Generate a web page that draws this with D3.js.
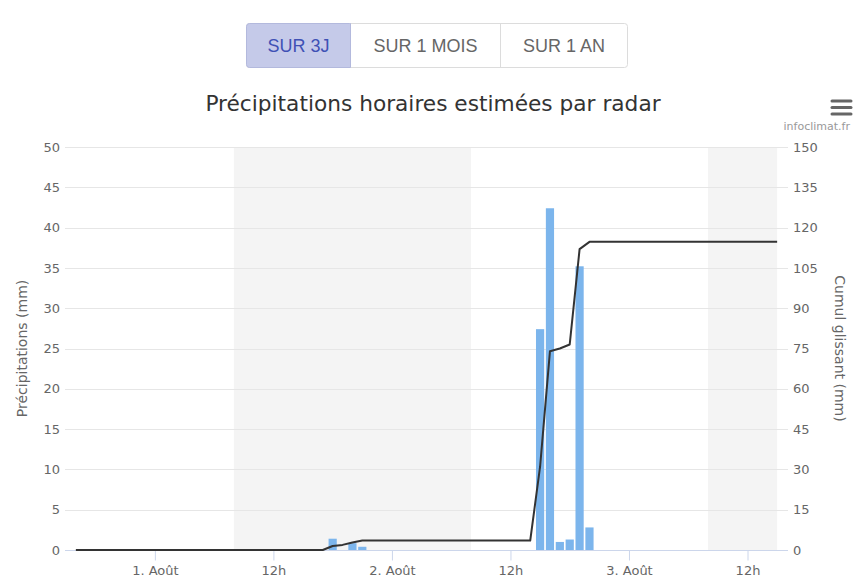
<!DOCTYPE html>
<html><head><meta charset="utf-8">
<script src="https://cdn.jsdelivr.net/npm/d3@7"></script>
<style>
html,body{margin:0;padding:0;background:#fff;}
svg{display:block;}
</style></head>
<body>
<svg id="c" width="860" height="588"></svg>
<script>
// ---- data ----
const startTime = "2024-07-31T16:00:00";   // first hourly value
const precipitation = [
  0,0,0,0,0,0,0,0,0,0, 0,0,0,0,0,0,0,0,0,0, 0,0,0,0,0,0,
  1.4,0,0.85,0.4,
  0,0,0,0,0,0,0,0,0,0, 0,0,0,0,0,0,0,
  27.4,42.4,1.0,1.3,35.2,2.8,
  0,0,0,0,0,0,0,0,0,0, 0,0,0,0,0,0,0,0,0
];
const cumul = [
  0,0,0,0,0,0,0,0,0,0, 0,0,0,0,0,0,0,0,0,0, 0,0,0,0,0,0,
  1.5,1.9,2.8,3.5,
  3.5,3.5,3.5,3.5,3.5,3.5,3.5,3.5,3.5,3.5, 3.5,3.5,3.5,3.5,3.5,3.5,3.5,
  31,74,75,76.5,112,114.7,
  114.7,114.7,114.7,114.7,114.7,114.7,114.7,114.7,114.7,114.7,
  114.7,114.7,114.7,114.7,114.7,114.7,114.7,114.7,114.7
];
const xTicks = ["2024-08-01T00:00:00","2024-08-01T12:00:00","2024-08-02T00:00:00","2024-08-02T12:00:00","2024-08-03T00:00:00","2024-08-03T12:00:00"];
const xTickLabels = ["1. Août","12h","2. Août","12h","3. Août","12h"];
const bandStarts = ["2024-08-01T08:00:00","2024-08-03T08:00:00"];
const bandEnds   = ["2024-08-02T08:00:00","2024-08-03T15:00:00"];
const leftTicks = [0,5,10,15,20,25,30,35,40,45,50];
const rightTicks = [0,15,30,45,60,75,90,105,120,135,150];
const buttons = ["SUR 3J","SUR 1 MOIS","SUR 1 AN"];
const titleText = "Précipitations horaires estimées par radar";
const leftTitle = "Précipitations (mm)";
const rightTitle = "Cumul glissant (mm)";
const credit = "infoclimat.fr";

// ---- layout ----
const svg = d3.select("#c");
const L = 65, R = 788, T = 147, B = 550;
const parse = d3.isoParse;
const t0 = parse(startTime);
const times = precipitation.map((_, i) => d3.timeHour.offset(t0, i));
const tEnd = times[times.length - 1];
const padMs = 1.1 * 3600e3;
const x = d3.scaleTime()
  .domain([new Date(+t0 - padMs), new Date(+tEnd + padMs)])
  .range([L, R]);
const yL = d3.scaleLinear().domain([0, 50]).range([B, T]);
const yR = d3.scaleLinear().domain([0, 150]).range([B, T]);
const font = "'DejaVu Sans', sans-serif";

// buttons
const btnX = [246, 351, 500, 628];
const bg = svg.append("g");
bg.append("rect").attr("x", 246.5).attr("y", 23.5).attr("width", 381).attr("height", 44)
  .attr("rx", 3).attr("fill", "#fff").attr("stroke", "#dcdcdc");
bg.append("path")
  .attr("d", "M349.5,23.5 H249.5 A3,3 0 0 0 246.5,26.5 V64.5 A3,3 0 0 0 249.5,67.5 H350.5 V23.5 Z")
  .attr("fill", "#c5cae9").attr("stroke", "#b3b9dd");
bg.append("line").attr("x1", 500.5).attr("x2", 500.5).attr("y1", 23.5).attr("y2", 67.5).attr("stroke", "#dcdcdc");
buttons.forEach((b, i) => {
  bg.append("text").attr("x", (btnX[i] + btnX[i + 1]) / 2).attr("y", 52)
    .attr("text-anchor", "middle").attr("font-family", "'Liberation Sans', Arial, sans-serif")
    .attr("font-size", 18).attr("fill", i === 0 ? "#3f51b5" : "#666").text(b);
});

// title
svg.append("text").attr("x", 433).attr("y", 111).attr("text-anchor", "middle")
  .attr("font-family", font).attr("font-size", 21.7).attr("fill", "#333").text(titleText);

// menu icon
[101, 107.5, 114].forEach(yy => {
  svg.append("line").attr("x1", 832).attr("x2", 851).attr("y1", yy).attr("y2", yy)
    .attr("stroke", "#666").attr("stroke-width", 3).attr("stroke-linecap", "round");
});
svg.append("text").attr("x", 850).attr("y", 130).attr("text-anchor", "end")
  .attr("font-family", font).attr("font-size", 11).attr("fill", "#999").text(credit);

// bands
svg.append("g").selectAll("rect").data(bandStarts).join("rect")
  .attr("x", (d) => x(parse(d)))
  .attr("width", (d, i) => x(parse(bandEnds[i])) - x(parse(d)))
  .attr("y", T).attr("height", B - T).attr("fill", "#f4f4f4");

// gridlines
svg.append("g").selectAll("line").data(leftTicks.slice(1)).join("line")
  .attr("x1", L).attr("x2", R)
  .attr("y1", d => Math.round(yL(d)) + 0.5).attr("y2", d => Math.round(yL(d)) + 0.5)
  .attr("stroke", "#e6e6e6");

// left axis labels
const gl = svg.append("g").attr("transform", `translate(${L},0)`)
  .call(d3.axisLeft(yL).tickValues(leftTicks).tickSize(0).tickPadding(5));
gl.select(".domain").remove();
gl.selectAll("text").attr("font-family", font).attr("font-size", 13).attr("fill", "#666");

const gr = svg.append("g").attr("transform", `translate(${R},0)`)
  .call(d3.axisRight(yR).tickValues(rightTicks).tickSize(0).tickPadding(5));
gr.select(".domain").remove();
gr.selectAll("text").attr("font-family", font).attr("font-size", 13).attr("fill", "#666");

// axis titles
svg.append("text").attr("transform", `translate(27,${(T + B) / 2}) rotate(-90)`)
  .attr("text-anchor", "middle").attr("font-family", font).attr("font-size", 14)
  .attr("fill", "#666").text(leftTitle);
svg.append("text").attr("transform", `translate(835,${(T + B) / 2}) rotate(90)`)
  .attr("text-anchor", "middle").attr("font-family", font).attr("font-size", 14)
  .attr("fill", "#666").text(rightTitle);

// bars
const step = x(times[1]) - x(times[0]);
const bw = step * 0.83;
svg.append("g").selectAll("rect").data(precipitation.map((v, i) => ({ v, t: times[i] })).filter(d => d.v > 0))
  .join("rect")
  .attr("x", d => x(d.t) - bw / 2).attr("width", bw)
  .attr("y", d => yL(d.v)).attr("height", d => B - yL(d.v))
  .attr("fill", "#7cb5ec");

// x axis
const gx = svg.append("g").attr("transform", `translate(0,${B + 0.5})`)
  .call(d3.axisBottom(x).tickValues(xTicks.map(parse)).tickSize(10).tickPadding(5)
    .tickFormat((d, i) => xTickLabels[i]));
gx.select(".domain").attr("d", `M${L},0H${R}`).attr("stroke", "#ccd6eb");
gx.selectAll(".tick line").attr("stroke", "#ccd6eb");
gx.selectAll("text").attr("font-family", font).attr("font-size", 13).attr("fill", "#666");

// cumulative line
svg.append("path").datum(cumul)
  .attr("d", d3.line().x((d, i) => x(times[i])).y(d => yR(d)))
  .attr("fill", "none").attr("stroke", "#333").attr("stroke-width", 2)
  .attr("stroke-linejoin", "round");
</script>
</body></html>
